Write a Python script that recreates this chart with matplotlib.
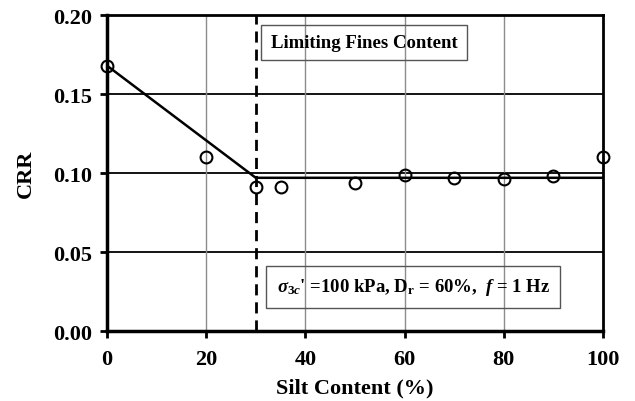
import numpy as np
import matplotlib
matplotlib.use('Agg')
import matplotlib.pyplot as plt

plt.rcParams['font.family'] = ['Liberation Serif', 'DejaVu Serif']
plt.rcParams['font.weight'] = 'bold'
plt.rcParams['mathtext.fontset'] = 'custom'
plt.rcParams['mathtext.rm'] = 'Liberation Serif:bold'
plt.rcParams['mathtext.it'] = 'Liberation Serif:italic:bold'
plt.rcParams['mathtext.bf'] = 'Liberation Serif:bold'

# measured CRR vs silt content
silt = [0, 20, 30, 35, 50, 60, 70, 80, 90, 100]
crr = [0.168, 0.110, 0.091, 0.091, 0.094, 0.099, 0.097, 0.096, 0.098, 0.110]

# bilinear trend, breaking at the limiting fines content
fit_x = [0, 30, 100]
fit_y = [0.168, 0.097, 0.097]
lfc = 30

fig = plt.figure(figsize=(6.35, 4.02), dpi=100)
ax = fig.add_axes([0.1685, 0.174, 0.781, 0.786])

# grid: dark horizontal, light vertical
for y in [0.05, 0.10, 0.15]:
    ax.axhline(y, color='black', lw=1.3, zorder=1)
for x in [20, 40, 60, 80]:
    ax.axvline(x, color='#8c8c8c', lw=1.0, zorder=1)

ax.axvline(lfc, color='black', lw=2, ls=(0, (4, 2.5)), zorder=2)
ax.plot(fit_x, fit_y, color='black', lw=1.8, zorder=3)
ax.plot(silt, crr, 'o', mfc='none', mec='black', ms=8.5, mew=1.5,
        zorder=4, clip_on=False)

ax.set_xlim(0, 100)
ax.set_ylim(0, 0.20)
ax.set_xticks([0, 20, 40, 60, 80, 100])
ax.set_yticks([0, 0.05, 0.10, 0.15, 0.20])
ax.set_yticklabels(['0.00', '0.05', '0.10', '0.15', '0.20'])
ax.tick_params(direction='out', length=5, width=2, labelsize=16)
ax.tick_params(axis='x', pad=8)
ax.tick_params(axis='y', pad=6)

for side in ['left', 'bottom']:
    ax.spines[side].set_linewidth(2.5)
for side in ['top', 'right']:
    ax.spines[side].set_linewidth(2)

ax.set_xlabel('Silt Content (%)', fontsize=16, fontweight='bold', labelpad=6)
ax.set_ylabel('CRR', fontsize=16, fontweight='bold', labelpad=12)

ax.text(0.33, 0.94, 'Limiting Fines Content', transform=ax.transAxes,
        fontsize=13.5, fontweight='bold', va='top', ha='left',
        bbox=dict(boxstyle='square,pad=0.5', fc='none', ec='#555555', lw=1))
ax.text(0.342, 0.14, r"$\sigma_{3c}$' =100 kPa, D$_\mathrm{r}$ = 60%,  $f$ = 1 Hz",
        transform=ax.transAxes, fontsize=13.5, fontweight='bold',
        va='center', ha='left',
        bbox=dict(boxstyle='square,pad=0.55', fc='none', ec='#555555', lw=1))

fig.savefig('out.png', dpi=100)
